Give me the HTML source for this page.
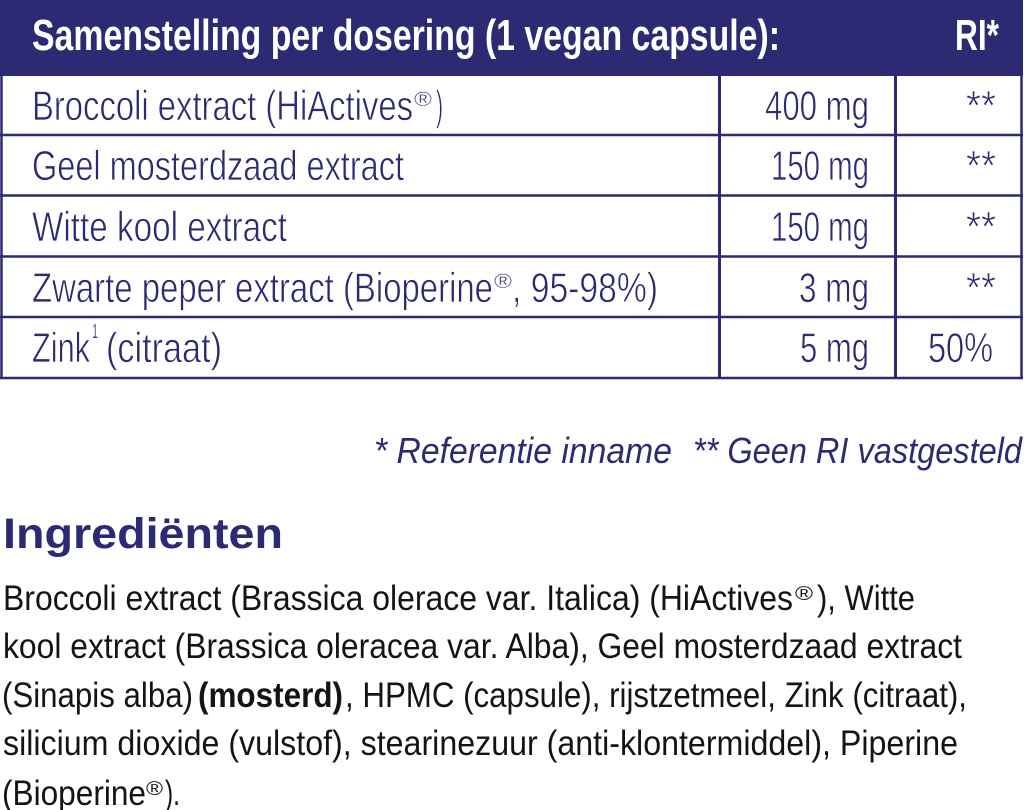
<!DOCTYPE html>
<html>
<head>
<meta charset="utf-8">
<style>
  html, body { margin: 0; padding: 0; background: #ffffff; }
  body { width: 1024px; height: 810px; overflow: hidden; }
  svg { display: block; }
  text { font-family: "Liberation Sans", "DejaVu Sans", sans-serif; }
</style>
</head>
<body>
<svg width="1024" height="810" viewBox="0 0 1024 810" xmlns="http://www.w3.org/2000/svg">
  <rect x="0" y="0" width="1024" height="810" fill="#ffffff"/>

  <!-- Table header -->
  <rect x="0" y="0" width="1023" height="76" fill="#2b2a73"/>
  <text x="32" y="50" font-size="44" font-weight="bold" fill="#ffffff" textLength="748" lengthAdjust="spacingAndGlyphs">Samenstelling per dosering (1 vegan capsule):</text>
  <text x="955" y="50" font-size="44" font-weight="bold" fill="#ffffff" textLength="44" lengthAdjust="spacingAndGlyphs">RI*</text>

  <!-- Table lines -->
  <g stroke="#2b2a73" fill="none">
    <line x1="1.5" y1="0" x2="1.5" y2="379" stroke-width="2.5"/>
    <line x1="1021.5" y1="0" x2="1021.5" y2="379" stroke-width="2.5"/>
    <line x1="0" y1="135" x2="1023" y2="135" stroke-width="2.5"/>
    <line x1="0" y1="195.5" x2="1023" y2="195.5" stroke-width="2.5"/>
    <line x1="0" y1="256.5" x2="1023" y2="256.5" stroke-width="2.5"/>
    <line x1="0" y1="317" x2="1023" y2="317" stroke-width="2.5"/>
    <line x1="0" y1="378" x2="1023" y2="378" stroke-width="2.5"/>
    <line x1="719.5" y1="75" x2="719.5" y2="379" stroke-width="3"/>
    <line x1="895.5" y1="75" x2="895.5" y2="379" stroke-width="3"/>
  </g>

  <g fill="#2b2a73" font-size="42" stroke="#ffffff" stroke-width="0.7">
    <!-- Row 1 -->
    <text x="32" y="120" textLength="381" lengthAdjust="spacingAndGlyphs">Broccoli extract (HiActives</text>
    <text x="414" y="106" font-size="20" stroke-width="0.3" textLength="18" lengthAdjust="spacingAndGlyphs">®</text>
    <text x="436" y="120" textLength="7" lengthAdjust="spacingAndGlyphs">)</text>
    <text x="765" y="120" textLength="104" lengthAdjust="spacingAndGlyphs">400 mg</text>
    <text x="966" y="120" textLength="30" lengthAdjust="spacingAndGlyphs">**</text>

    <!-- Row 2 -->
    <text x="32" y="180" textLength="372" lengthAdjust="spacingAndGlyphs">Geel mosterdzaad extract</text>
    <text x="771" y="180" textLength="98" lengthAdjust="spacingAndGlyphs">150 mg</text>
    <text x="966" y="180" textLength="30" lengthAdjust="spacingAndGlyphs">**</text>

    <!-- Row 3 -->
    <text x="32" y="241" textLength="255" lengthAdjust="spacingAndGlyphs">Witte kool extract</text>
    <text x="771" y="241" textLength="98" lengthAdjust="spacingAndGlyphs">150 mg</text>
    <text x="966" y="241" textLength="30" lengthAdjust="spacingAndGlyphs">**</text>

    <!-- Row 4 -->
    <text x="32" y="302" textLength="461" lengthAdjust="spacingAndGlyphs">Zwarte peper extract (Bioperine</text>
    <text x="494" y="288" font-size="20" stroke-width="0.3" textLength="18" lengthAdjust="spacingAndGlyphs">®</text>
    <text x="512" y="302" textLength="146" lengthAdjust="spacingAndGlyphs">, 95-98%)</text>
    <text x="799" y="302" textLength="70" lengthAdjust="spacingAndGlyphs">3 mg</text>
    <text x="966" y="302" textLength="30" lengthAdjust="spacingAndGlyphs">**</text>

    <!-- Row 5 -->
    <text x="32" y="362" textLength="58" lengthAdjust="spacingAndGlyphs">Zink</text>
    <text x="92" y="338" font-size="20" stroke-width="0.3" textLength="6" lengthAdjust="spacingAndGlyphs">1</text>
    <text x="106" y="362" textLength="116" lengthAdjust="spacingAndGlyphs">(citraat)</text>
    <text x="800" y="362" textLength="69" lengthAdjust="spacingAndGlyphs">5 mg</text>
    <text x="928" y="362" textLength="65" lengthAdjust="spacingAndGlyphs">50%</text>
  </g>

  <!-- Footnote -->
  <g fill="#2b2a73" font-size="36" font-style="italic">
    <text x="374" y="463" textLength="298" lengthAdjust="spacingAndGlyphs">* Referentie inname</text>
    <text x="693" y="463" textLength="329" lengthAdjust="spacingAndGlyphs">** Geen RI vastgesteld</text>
  </g>

  <!-- Ingrediënten heading -->
  <text x="3" y="548" font-size="43" font-weight="bold" fill="#2b2a73" textLength="280" lengthAdjust="spacingAndGlyphs">Ingrediënten</text>

  <!-- Ingredients body -->
  <g fill="#141414" font-size="35">
    <text x="3" y="610" textLength="790" lengthAdjust="spacingAndGlyphs">Broccoli extract (Brassica olerace var. Italica) (HiActives</text>
    <text x="795" y="600" font-size="19" textLength="18" lengthAdjust="spacingAndGlyphs">®</text>
    <text x="817" y="610" textLength="98" lengthAdjust="spacingAndGlyphs">), Witte</text>

    <text x="3" y="658" textLength="959" lengthAdjust="spacingAndGlyphs">kool extract (Brassica oleracea var. Alba), Geel mosterdzaad extract</text>

    <text x="2" y="707" textLength="191" lengthAdjust="spacingAndGlyphs">(Sinapis alba)</text>
    <text x="198" y="707" font-weight="bold" textLength="145" lengthAdjust="spacingAndGlyphs">(mosterd)</text>
    <text x="345" y="707" textLength="622" lengthAdjust="spacingAndGlyphs">, HPMC (capsule), rijstzetmeel, Zink (citraat),</text>

    <text x="3" y="755" textLength="955" lengthAdjust="spacingAndGlyphs">silicium dioxide (vulstof), stearinezuur (anti-klontermiddel), Piperine</text>

    <text x="2" y="805" textLength="144" lengthAdjust="spacingAndGlyphs">(Bioperine</text>
    <text x="146" y="795" font-size="19" textLength="17" lengthAdjust="spacingAndGlyphs">®</text>
    <text x="165" y="805" textLength="15" lengthAdjust="spacingAndGlyphs">).</text>
  </g>
</svg>
</body>
</html>
